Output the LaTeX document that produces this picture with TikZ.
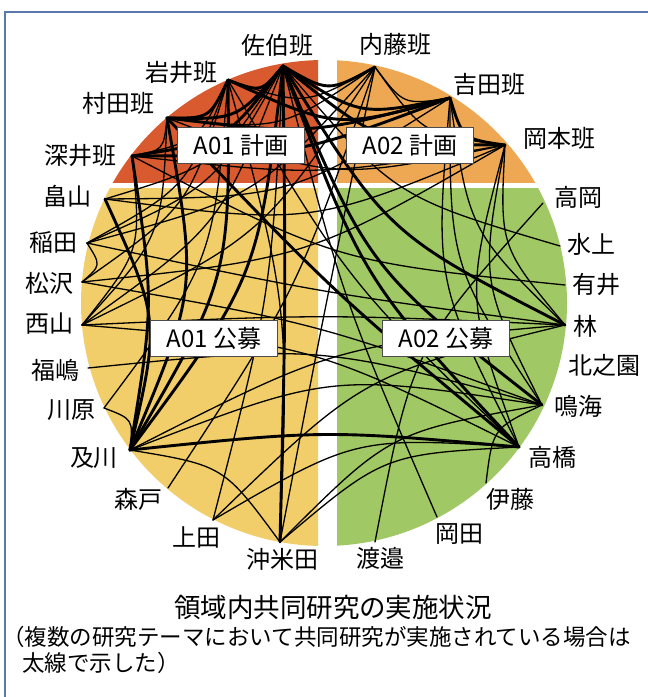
\documentclass[tikz,border=0pt]{standalone}
\usepackage{fontspec}
\setmainfont{Noto Sans CJK JP}
\usetikzlibrary{calc}
\definecolor{cred}{RGB}{216,90,46}
\definecolor{corange}{RGB}{238,168,84}
\definecolor{cyellow}{RGB}{242,206,106}
\definecolor{cgreen}{RGB}{160,200,100}
\definecolor{cframe}{RGB}{90,120,170}
\tikzset{
  tl/.style={line width=1.3pt, line cap=round},
  tk/.style={line width=2.9pt, line cap=round},
  lab/.style={font=\fontsize{24}{24}\selectfont, inner sep=0pt},
  grp/.style={draw=black!70, line width=0.8pt, fill=white, minimum width=127pt, minimum height=36pt, inner sep=0pt, font=\fontsize{24}{24}\selectfont},
}
% #1 style, #2 from, #3 to, #4 bend scale
\newcommand\cn[4][tl]{%
  \pgfpointdiff{\pgfpointanchor{#2}{center}}{\pgfpointanchor{#3}{center}}%
  \pgfgetlastxy{\cnmx}{\cnmy}%
  \pgfmathsetmacro\cnL{veclen(\cnmx,\cnmy)}%
  \pgfpointdiff{\pgfpointlineattime{0.5}{\pgfpointanchor{#2}{center}}{\pgfpointanchor{#3}{center}}}{\pgfpointanchor{O}{center}}%
  \pgfgetlastxy{\cndx}{\cndy}%
  \pgfmathsetmacro\cnD{max(veclen(\cndx,\cndy),1)}%
  \pgfmathsetmacro\cnR{#4*min(2.7*sqrt(\cnL)/\cnD,0.5)}%
  \pgfmathsetmacro\cnH{0.5*(1-\cnR)}%
  \draw[#1] (#2) .. controls ($\cnH*(#2)+\cnH*(#3)+\cnR*(O)$) .. (#3);%
}
\begin{document}
\begin{tikzpicture}[x=1pt,y=-1pt]
\useasboundingbox (0,0) rectangle (648,697);
\fill[white] (0,0) rectangle (648,697);
\draw[cframe, line width=1.5pt] (5,697) -- (5,12) -- (648,12);
\coordinate (O) at (324,303);
% quadrants
\begin{scope}\clip (0,0) rectangle (318,182);\fill[cred] (O) circle[radius=243pt];\end{scope}
\begin{scope}\clip (337,0) rectangle (648,182);\fill[corange] (O) circle[radius=243pt];\end{scope}
\begin{scope}\clip (0,188) rectangle (318,697);\fill[cyellow] (O) circle[radius=243pt];\end{scope}
\begin{scope}\clip (337,188) rectangle (648,697);\fill[cgreen] (O) circle[radius=243pt];\end{scope}
% hubs
\coordinate (saeki) at (283,66);
\coordinate (iwai) at (228,80);
\coordinate (murata) at (167,118);
\coordinate (fukai) at (132,156);
\coordinate (naito) at (375,67);
\coordinate (yoshida) at (450,98);
\coordinate (okamoto) at (505,145);
\coordinate (hatayama) at (105,199);
\coordinate (inada) at (87,243);
\coordinate (matsuzawa) at (82,282);
\coordinate (nishiyama) at (82,325);
\coordinate (fukushima) at (88,368);
\coordinate (kawahara) at (104,408);
\coordinate (oikawa) at (130,450);
\coordinate (morito) at (168,488);
\coordinate (ueda) at (213,520);
\coordinate (okimeta) at (280,542);
\coordinate (takaoka) at (543,203);
\coordinate (mizukami) at (560,246);
\coordinate (arii) at (565,285);
\coordinate (hayashi) at (565,325);
\coordinate (narumi) at (542,405);
\coordinate (takahashi) at (519,447);
\coordinate (ito) at (486,483);
\coordinate (okada) at (437,517);
\coordinate (watanabe) at (375,542);
% planned-internal
\cn[tk]{saeki}{iwai}{1}
\cn[tk]{saeki}{murata}{1}
\cn[tk]{saeki}{fukai}{1}
\cn[tk]{iwai}{murata}{1}
\cn{iwai}{fukai}{1}
\cn{murata}{fukai}{1}
\cn[tk]{saeki}{naito}{1}
\cn[tk]{saeki}{yoshida}{1}
\cn[tk]{saeki}{okamoto}{1}
\cn{iwai}{naito}{1}
\cn[tk]{iwai}{yoshida}{1}
\cn[tk]{murata}{yoshida}{0.6}
\cn{murata}{naito}{1}
\cn[tk]{fukai}{yoshida}{0.6}
\cn{fukai}{okamoto}{0.5}
\cn{naito}{yoshida}{1}
\cn[tk]{yoshida}{okamoto}{1}
\cn{naito}{okamoto}{1}
\cn{murata}{okamoto}{1}
% saeki to open calls
\cn{saeki}{hatayama}{1}
\cn{saeki}{inada}{1}
\cn{saeki}{nishiyama}{1}
\cn[tk]{saeki}{oikawa}{1}
\cn{saeki}{ueda}{0.6}
\cn[tk]{saeki}{okimeta}{0.2}
\cn[tk]{saeki}{takahashi}{1}
\cn[tk]{saeki}{narumi}{1}
\cn[tk]{saeki}{hayashi}{1}
\cn{saeki}{mizukami}{1}
\cn{saeki}{okada}{1}
% iwai
\cn{iwai}{inada}{1}
\cn{iwai}{matsuzawa}{1}
\cn[tk]{iwai}{oikawa}{1}
\cn{iwai}{okimeta}{1}
\cn{iwai}{kawahara}{1}
\cn{iwai}{takahashi}{1}
% murata
\cn[tk]{murata}{oikawa}{1}
\cn{murata}{nishiyama}{1}
\cn[tk]{murata}{takahashi}{1}
% fukai
\cn[tk]{fukai}{oikawa}{0.5}
\cn{fukai}{nishiyama}{1}
\cn{fukai}{arii}{1}
% naito
\cn{naito}{inada}{1}
\cn{naito}{nishiyama}{1}
\cn{naito}{okimeta}{1}
\cn{naito}{morito}{1}
% yoshida
\cn{yoshida}{hatayama}{1}
\cn{yoshida}{narumi}{1}
\cn{yoshida}{takahashi}{1}
\cn{yoshida}{hayashi}{1}
% okamoto
\cn{okamoto}{hayashi}{1}
\cn{okamoto}{narumi}{1}
\cn{okamoto}{takahashi}{1}
\cn{okamoto}{hatayama}{1}
\cn{okamoto}{matsuzawa}{1}
% among open calls
\cn[tk]{hatayama}{oikawa}{1}
\cn{inada}{matsuzawa}{1}
\cn{kawahara}{oikawa}{1}
\cn{oikawa}{okimeta}{1}
\cn[tk]{oikawa}{takahashi}{0.35}
\cn{oikawa}{hayashi}{1}
\cn{oikawa}{narumi}{1}
\cn{ito}{narumi}{1}
\cn{ueda}{hayashi}{1}
\cn{okimeta}{takahashi}{1}
\cn{okimeta}{narumi}{1}
\cn{nishiyama}{hayashi}{1}
\cn{nishiyama}{takahashi}{1}
\cn{fukushima}{narumi}{1}
\cn{inada}{hayashi}{1}
\cn{matsuzawa}{narumi}{1}
\cn{takaoka}{watanabe}{1}
\cn{ueda}{takahashi}{1}
% group boxes
\node[grp] (bA01p) at (241,145) {A01 計画};
\node[grp] (bA02p) at (410,145) {A02 計画};
\node[grp] (bA01k) at (214,338) {A01 公募};
\node[grp] (bA02k) at (446,338) {A02 公募};
% labels
\node[lab] (lsaeki) at (277,45) {佐伯班};
\node[lab] (liwai) at (181,72) {岩井班};
\node[lab] (lmurata) at (118,103) {村田班};
\node[lab] (lfukai) at (81,155) {深井班};
\node[lab] (lnaito) at (395,44) {内藤班};
\node[lab] (lyoshida) at (489,84) {吉田班};
\node[lab] (lokamoto) at (559,138) {岡本班};
\node[lab] (lhatayama) at (67,196) {畠山};
\node[lab] (linada) at (53,242) {稲田};
\node[lab] (lmatsuzawa) at (50,283) {松沢};
\node[lab] (lnishiyama) at (50,324) {西山};
\node[lab] (lfukushima) at (55,370) {福嶋};
\node[lab] (lkawahara) at (71,410) {川原};
\node[lab] (loikawa) at (94,458) {及川};
\node[lab] (lmorito) at (138,499) {森戸};
\node[lab] (lueda) at (196,537) {上田};
\node[lab] (lokimeta) at (282,559) {沖米田};
\node[lab] (ltakaoka) at (578,197) {高岡};
\node[lab] (lmizukami) at (591,244) {水上};
\node[lab] (larii) at (596,284) {有井};
\node[lab] (lhayashi) at (585,326) {林};
\node[lab] (lkitanosono) at (604,365) {北之園};
\node[lab] (lnarumi) at (578,406) {鳴海};
\node[lab] (ltakahashi) at (552,457) {高橋};
\node[lab] (lito) at (510,499) {伊藤};
\node[lab] (lokada) at (459,534) {岡田};
\node[lab] (lwatanabe) at (380,558) {渡邉};
% caption
\node[inner sep=0pt, font=\fontsize{26.5}{26.5}\selectfont] (title) at (333,607) {領域内共同研究の実施状況};
\node[inner sep=0pt, anchor=west, font=\fontsize{22.5}{22.5}\selectfont] (sub1) at (2,637) {（複数の研究テーマにおいて共同研究が実施されている場合は};
\node[inner sep=0pt, anchor=west, font=\fontsize{22.5}{22.5}\selectfont] (sub2) at (22,663) {太線で示した）};
\end{tikzpicture}
\end{document}
